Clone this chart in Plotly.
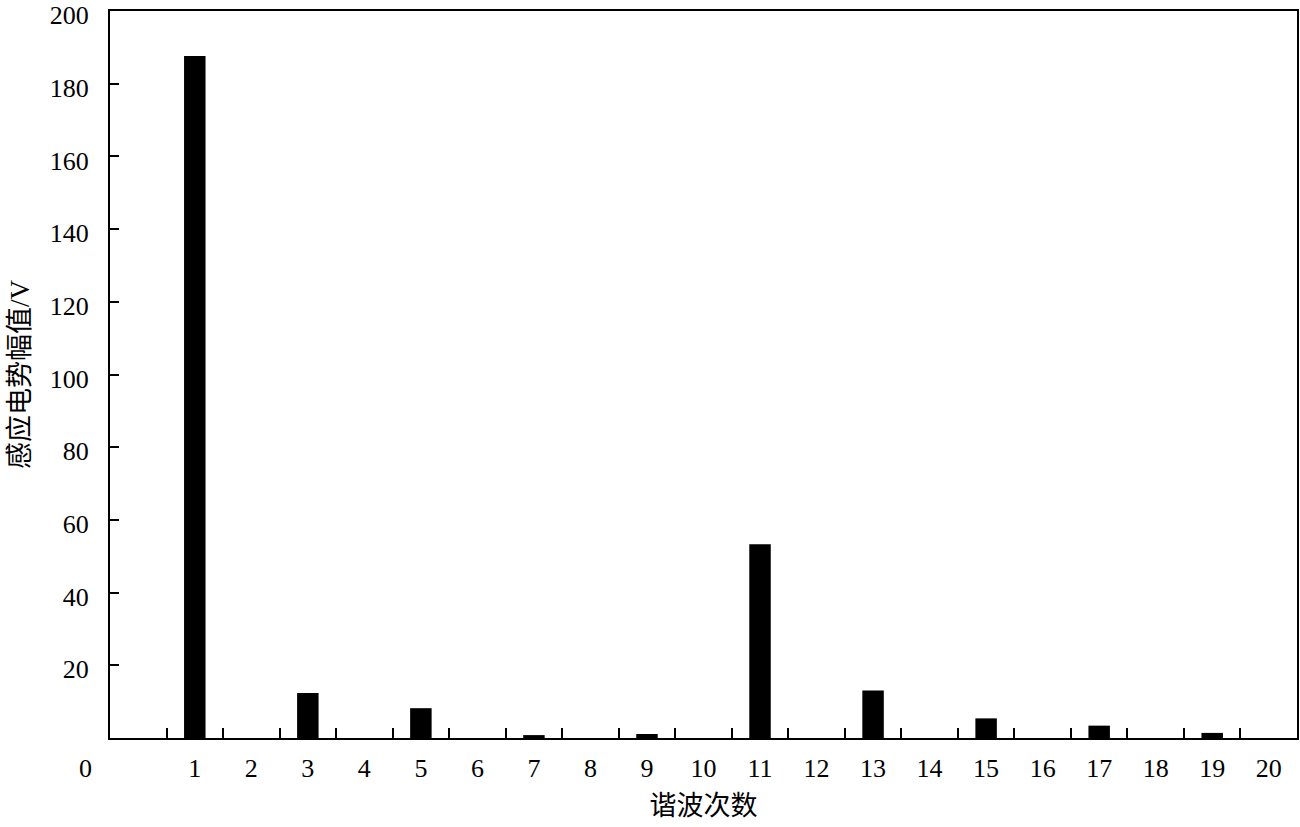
import plotly.graph_objects as go

orders = list(range(1, 21))
amplitudes = [187.6, 0, 12.4, 0, 8.2, 0, 0.8, 0, 1.1, 0,
              53.3, 0, 13.1, 0, 5.4, 0, 3.4, 0, 1.4, 0]
x_tick_labels = [str(o) for o in orders]
boundary_ticks = [o - 0.5 for o in orders]
y_tick_vals = [20, 40, 60, 80, 100, 120, 140, 160, 180, 200]
y_tick_text = [str(v) for v in y_tick_vals]

num_font = "Liberation Serif, Times New Roman, serif"
cjk_font = "Liberation Serif, Noto Sans CJK SC, serif"

fig = go.Figure()
fig.add_trace(go.Bar(x=orders, y=amplitudes, width=0.38,
                     marker=dict(color="black", line=dict(width=0)),
                     showlegend=False))
fig.add_trace(go.Scatter(x=[None], y=[None], xaxis="x2", showlegend=False,
                         hoverinfo="skip"))

fig.update_layout(
    width=1300, height=827,
    margin=dict(l=110, r=3, t=11, b=89),
    plot_bgcolor="white", paper_bgcolor="white",
    font=dict(family=num_font, size=26, color="black"),
    xaxis=dict(range=[-0.5, 20.5], tickvals=orders, ticktext=x_tick_labels,
               ticks="", showgrid=False, zeroline=False, automargin=False,
               showline=True, linecolor="black", linewidth=2, mirror=True,
               ticklabelstandoff=6, ticklabeloverflow="allow",
               tickfont=dict(family=num_font, size=26, color="black"),
               title=dict(text="谐波次数", standoff=14,
                          font=dict(family=cjk_font, size=27, color="black"))),
    xaxis2=dict(range=[-0.5, 20.5], overlaying="x", side="bottom",
                tickvals=boundary_ticks, ticks="inside", ticklen=10,
                tickwidth=2, tickcolor="black", showticklabels=False,
                showgrid=False, zeroline=False, showline=False, automargin=False),
    yaxis=dict(range=[0, 200], tickvals=y_tick_vals, ticktext=y_tick_text,
               ticks="inside", ticklen=9, tickwidth=2, tickcolor="black",
               showgrid=False, zeroline=False, automargin=False,
               showline=True, linecolor="black", linewidth=2, mirror=True,
               ticklabelstandoff=14, ticklabelshift=4, ticklabeloverflow="allow",
               tickfont=dict(family=num_font, size=26, color="black"),
               title=dict(text="感应电势幅值/V", standoff=12,
                          font=dict(family=cjk_font, size=27, color="black"))),
    annotations=[dict(text="0", xref="paper", yref="paper", x=0, y=0,
                      xanchor="right", yanchor="middle", xshift=-16, yshift=-30,
                      showarrow=False,
                      font=dict(family=num_font, size=26, color="black"))],
)

fig.write_html("out.html", config={"displayModeBar": False},
               post_script="document.body.style.margin='0';")
